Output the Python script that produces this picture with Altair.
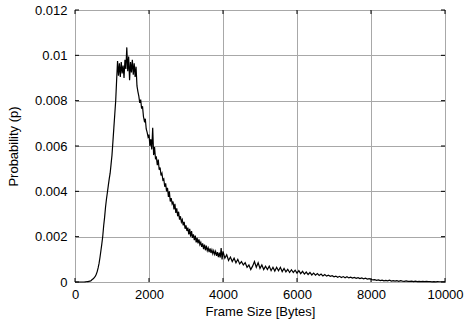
import altair as alt
import pandas as pd

# Frame-size bins (bytes) and probabilities (in units of 1e-4)
frame_size_a = list(range(0, 4001, 25))
prob_a_e4 = [
    0, 0, 0, 0, 0, 0, 0, 0,
    0, 0, 0, 0.05, 0.1, 0.15, 0.2, 0.3,
    0.4, 0.5, 0.9, 1.2, 1.5, 2.0, 2.6, 3.4,
    4.6, 6.2, 8.2, 10.8, 13.8, 16.8, 20.2, 24.8,
    28.5, 33.0, 36.5, 39.5, 42.5, 45.5, 48.0, 52.0,
    56, 62, 68, 74, 80, 89, 97.5, 91,
    96.5, 90.5, 97, 92, 95.5, 90, 98, 94,
    103.5, 93, 99.5, 89, 97, 92.5, 98, 91.5,
    96.5, 90.5, 95, 86.5, 84, 82, 79, 80.5,
    76.5, 77.5, 73, 71, 72, 67.5, 66, 64,
    65, 60, 63, 58.5, 68, 56, 59.5, 54.5,
    55, 51.5, 54, 49.5, 50.5, 47, 48, 45,
    45.5, 42, 43.5, 40, 41.5, 37.5, 40, 35.5,
    37, 34.5, 35.5, 32, 34.5, 30.5, 32.5, 29,
    31, 27.5, 29, 26.5, 27.5, 25, 26.5, 23.5,
    25, 22.5, 24, 21, 23.5, 20, 22.5, 19.5,
    21, 18.5, 20.5, 17.5, 19.5, 17, 18.8, 16.5,
    17.5, 15.5, 17, 14.5, 16.5, 14, 16, 13.8,
    15, 13.2, 14.8, 12.8, 14.2, 12.5, 13.8, 12.2,
    13.5, 11.5, 13.2, 11, 13, 10.8, 15, 10,
    13.5,
]
frame_size_b = list(range(4050, 10001, 50))
prob_b_e4 = [
    10.5, 12, 9.5, 11, 9, 10.5, 8.5, 10, 8, 9,
    7.5, 8.5, 6.5, 7.5, 5.5, 7, 9, 6.5, 8.5, 6,
    7.5, 5.5, 7, 5.5, 7, 5, 6.5, 4.8, 6.5, 5,
    6.5, 4.6, 6, 4.5, 5.6, 4.2, 5.4, 4.2, 5.2, 3.9,
    5, 3.7, 4.7, 3.5, 4.4, 3.3, 4.2, 3.1, 3.9, 3,
    3.7, 2.9, 3.5, 2.7, 3.3, 2.6, 3, 2.5, 2.8, 2.3,
    2.6, 2.1, 2.5, 2, 2.4, 1.9, 2.3, 1.8, 2.1, 1.7,
    2, 1.6, 1.9, 1.5, 1.8, 1.4, 1.7, 1.3, 1.5, 1.2,
    0.9, 1, 0.7, 0.9, 0.6, 0.8, 0.5, 0.7, 0.5, 0.8,
    0.4, 0.6, 0.4, 0.6, 0.3, 0.6, 0.4, 0.3, 0.5, 0.3,
    0.3, 0.4, 0.2, 0.4, 0.2, 0.3, 0.2, 0.3, 0.2, 0.3,
    0.2, 0.2, 0.1, 0.2, 0.1, 0.2, 0.1, 0.1, 0.1, 0.1,
]
x_ticks = [0, 2000, 4000, 6000, 8000, 10000]
y_ticks = [0, 0.002, 0.004, 0.006, 0.008, 0.01, 0.012]

df = pd.DataFrame({
    "size": frame_size_a + frame_size_b,
    "p": [v * 1e-4 for v in prob_a_e4 + prob_b_e4],
})
xt = pd.DataFrame({"size": x_ticks})
yt = pd.DataFrame({"p": y_ticks})

W, H = 370, 272
TL = 4
FONT = "Liberation Sans"
x_scale = alt.Scale(domain=[0, 10000], nice=False, zero=False)
y_scale = alt.Scale(domain=[0, 0.012], nice=False)

x_axis = alt.Axis(values=x_ticks, format="d", title="Frame Size [Bytes]",
                  grid=True, gridColor="#a8a8a8", gridWidth=1, labelFlush=False,
                  ticks=False, domain=False, labelPadding=6, titlePadding=4)
y_axis = alt.Axis(values=y_ticks, format="~g", title="Probability (p)",
                  grid=True, gridColor="#a8a8a8", gridWidth=1, labelFlush=False,
                  ticks=False, domain=False, labelPadding=8, titlePadding=14)

X = alt.X("size:Q", scale=x_scale, axis=x_axis)
Y = alt.Y("p:Q", scale=y_scale, axis=y_axis)

line = alt.Chart(df).mark_line(color="black", strokeWidth=1.2).encode(x=X, y=Y)

ytick_l = alt.Chart(yt).mark_rule(color="black").encode(
    y=Y, x=alt.value(0), x2=alt.value(TL))
ytick_r = alt.Chart(yt).mark_rule(color="black").encode(
    y=Y, x=alt.value(W - TL), x2=alt.value(W))
xtick_b = alt.Chart(xt).mark_rule(color="black").encode(
    x=X, y=alt.value(H - TL), y2=alt.value(H))
xtick_t = alt.Chart(xt).mark_rule(color="black").encode(
    x=X, y=alt.value(0), y2=alt.value(TL))

chart = alt.layer(line, ytick_l, ytick_r, xtick_b, xtick_t).properties(
    width=W, height=H,
    autosize=alt.AutoSizeParams(type="none"),
    padding={"left": 75, "top": 10, "right": 19, "bottom": 46},
    background="white",
).configure_view(
    stroke="black", strokeWidth=1
).configure_axis(
    labelFont=FONT, labelFontSize=13, labelColor="black",
    titleFont=FONT, titleFontSize=13, titleFontWeight="normal", titleColor="black",
)

chart.save("out.html", embed_options={"renderer": "svg", "actions": False})
